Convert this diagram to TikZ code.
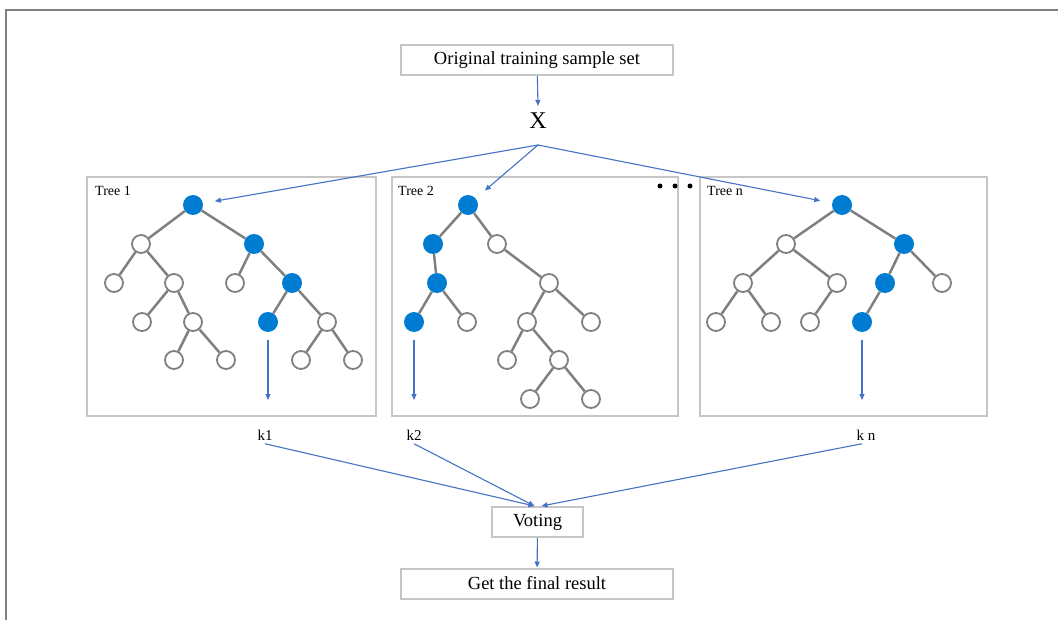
\documentclass[tikz,border=0pt]{standalone}
\usepackage{fontspec}
\setmainfont{Liberation Serif}
\usepackage{xcolor}
\definecolor{nb}{RGB}{0,125,210}
\definecolor{ab}{RGB}{68,114,196}
\definecolor{lg}{RGB}{198,198,198}
\definecolor{dg}{RGB}{128,128,128}
\usetikzlibrary{arrows.meta, positioning, calc}
\tikzstyle{block} = [draw=lg, line width=2pt, rectangle, minimum height=30pt, font=\fontsize{18.5}{20}\selectfont]
\tikzstyle{leaf} = [circle, draw=dg, line width=1.8pt, fill=white, minimum size=18pt, inner sep=0pt]
\tikzstyle{hit} = [circle, fill=nb, minimum size=20pt, inner sep=0pt]
\tikzstyle{branch} = [draw=dg, line width=2.5pt]
\tikzstyle{arr} = [draw=ab, line width=1.1pt, -{Triangle[length=6pt,width=5pt]}]
\tikzstyle{tbox} = [draw=lg, line width=2pt]
\tikzstyle{lbl} = [font=\fontsize{14}{16}\selectfont, anchor=west, inner sep=0pt]
\tikzstyle{klbl} = [font=\fontsize{15}{17}\selectfont]

\begin{document}
\begin{tikzpicture}[x=1pt, y=-1pt]
    \useasboundingbox (0,0) rectangle (1058,620);
    % frame
    \draw[dg, line width=2pt] (6,620) -- (6,10) -- (1058,10);

    % top
    \node[block, minimum width=272pt] (orig) at (537,60) {Original training sample set};
    \node[font=\fontsize{24}{26}\selectfont, inner sep=0pt] (X) at (538,121) {X};
    \draw[arr] (orig) -- ([yshift=7pt]X.north);
    \coordinate (xb) at (538,145);

    % tree boxes
    \draw[tbox] (87,177) rectangle (376,416);
    \draw[tbox] (392,177) rectangle (678,416);
    \draw[tbox] (700,177) rectangle (987,416);
    \node[lbl] (lt1) at (95,191) {Tree 1};
    \node[lbl] (lt2) at (398,191) {Tree 2};
    \node[lbl] (lt3) at (707,191) {Tree n};
    \fill (660,186) circle (2.5pt) (675,186) circle (2.5pt) (690,186) circle (2.5pt);

    % tree 1
    \node[hit] (t1r) at (193,205) {};
    \node[leaf] (t1a) at (141,244) {};
    \node[hit] (t1b) at (254,244) {};
    \node[leaf] (t1c) at (114,283) {};
    \node[leaf] (t1d) at (174,283) {};
    \node[leaf] (t1e) at (235,283) {};
    \node[hit] (t1f) at (292,283) {};
    \node[leaf] (t1g) at (142,322) {};
    \node[leaf] (t1h) at (193,322) {};
    \node[hit] (t1i) at (268,322) {};
    \node[leaf] (t1j) at (327,322) {};
    \node[leaf] (t1k) at (174,360) {};
    \node[leaf] (t1l) at (226,360) {};
    \node[leaf] (t1m) at (301,360) {};
    \node[leaf] (t1n) at (353,360) {};

    % tree 2
    \node[hit] (t2r) at (468,205) {};
    \node[hit] (t2a) at (433,244) {};
    \node[leaf] (t2b) at (497,244) {};
    \node[hit] (t2c) at (437,283) {};
    \node[hit] (t2d) at (414,322) {};
    \node[leaf] (t2e) at (467,322) {};
    \node[leaf] (t2f) at (549,283) {};
    \node[leaf] (t2g) at (527,322) {};
    \node[leaf] (t2h) at (591,322) {};
    \node[leaf] (t2i) at (507,360) {};
    \node[leaf] (t2j) at (559,360) {};
    \node[leaf] (t2k) at (530,399) {};
    \node[leaf] (t2l) at (591,399) {};

    % tree n
    \node[hit] (t3r) at (842,205) {};
    \node[leaf] (t3a) at (786,244) {};
    \node[hit] (t3b) at (904,244) {};
    \node[leaf] (t3c) at (743,283) {};
    \node[leaf] (t3d) at (837,283) {};
    \node[hit] (t3e) at (885,283) {};
    \node[leaf] (t3f) at (942,283) {};
    \node[leaf] (t3g) at (716,322) {};
    \node[leaf] (t3h) at (771,322) {};
    \node[leaf] (t3i) at (810,322) {};
    \node[hit] (t3j) at (862,322) {};

    \foreach \a/\b in {t1r/t1a, t1r/t1b, t1a/t1c, t1a/t1d, t1b/t1e, t1b/t1f, t1d/t1g, t1d/t1h,
        t1f/t1i, t1f/t1j, t1h/t1k, t1h/t1l, t1j/t1m, t1j/t1n,
        t2r/t2a, t2r/t2b, t2a/t2c, t2c/t2d, t2c/t2e, t2b/t2f, t2f/t2g, t2f/t2h, t2g/t2i, t2g/t2j,
        t2j/t2k, t2j/t2l,
        t3r/t3a, t3r/t3b, t3a/t3c, t3a/t3d, t3b/t3e, t3b/t3f, t3c/t3g, t3c/t3h, t3d/t3i, t3e/t3j}
        \draw[branch] (\a) -- (\b);

    % sample to trees
    \draw[arr, shorten >=12pt] (xb) -- (t1r);
    \draw[arr, shorten >=12pt] (xb) -- (t2r);
    \draw[arr, shorten >=12pt] (xb) -- (t3r);

    % outputs
    \coordinate (o1) at (268,400);
    \coordinate (o2) at (414,400);
    \coordinate (o3) at (862,400);
    \draw[arr, shorten <=8pt] (t1i) -- (o1);
    \draw[arr, shorten <=8pt] (t2d) -- (o2);
    \draw[arr, shorten <=8pt] (t3j) -- (o3);
    \node[klbl] (k1) at (265,435) {k1};
    \node[klbl] (k2) at (414,435) {k2};
    \node[klbl] (kn) at (866,435) {k n};

    % voting
    \node[block, minimum width=91pt] (vote) at (537.5,522) {Voting};
    \node[block, minimum width=272pt] (final) at (537,583.5) {Get the final result};
    \draw[arr] (k1.south) -- ([xshift=-3pt]vote.north);
    \draw[arr] (k2.south) -- ([xshift=-3pt]vote.north);
    \draw[arr] ([xshift=-4pt]kn.south) -- ([xshift=4pt]vote.north);
    \draw[arr] (vote) -- (final);
\end{tikzpicture}
\end{document}
